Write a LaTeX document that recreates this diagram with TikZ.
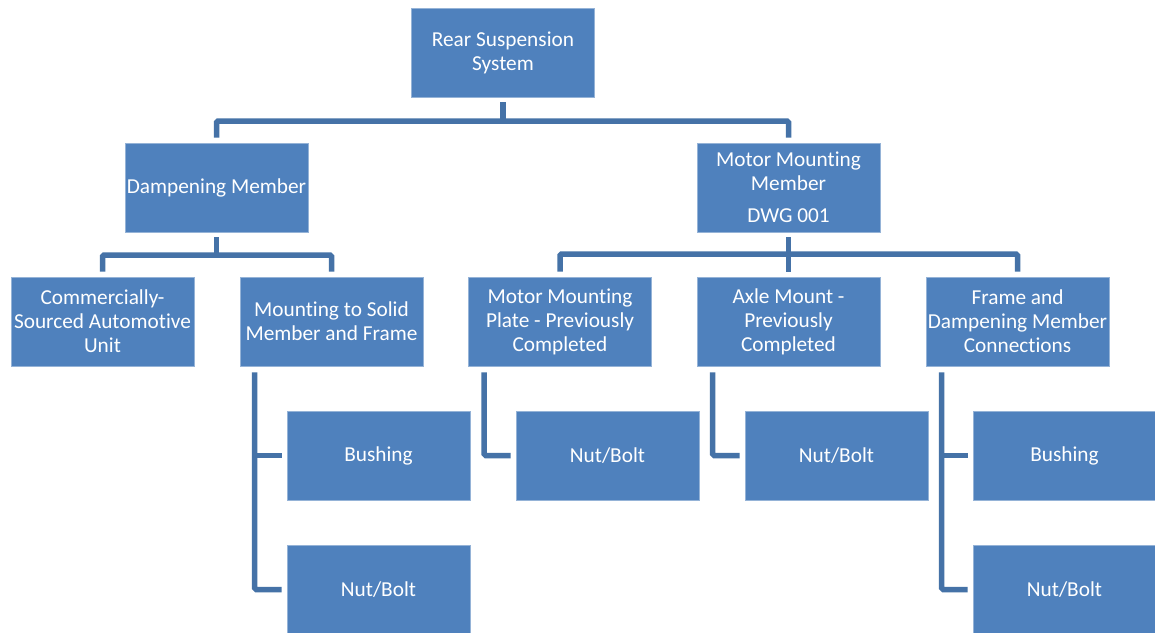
\documentclass[tikz,border=0pt]{standalone}
\usepackage{fontspec}
\setmainfont{Carlito}[Ligatures=NoCommon]
\definecolor{boxblue}{HTML}{4F81BD}
\definecolor{linkblue}{HTML}{4572A7}
\begin{document}
\begin{tikzpicture}[x=1pt,y=-1pt,
  box/.style={fill=boxblue, draw=boxblue!60!white, line width=0.6pt,
    minimum width=183pt, minimum height=89pt, inner sep=0pt, align=center,
    text=white, font=\fontsize{21.3}{24}\selectfont},
  conn/.style={draw=linkblue, line width=5.5pt, rounded corners=1.5pt}]
\useasboundingbox (0,0) rectangle (1155,632);
\fill[white] (0,0) rectangle (1155,632);
% level 0
\node[box] (root) at (503,52.5) {Rear Suspension\\System};
% level 1
\node[box] (damp) at (216.5,187.5) {Dampening Member};
\node[box] (mmm) at (788.5,187.5) {Motor Mounting\\Member\\[8pt]DWG 001};
% level 2
\node[box] (comm) at (102.5,321.5) {Commercially-\\Sourced Automotive\\Unit};
\node[box] (mount) at (331.5,321.5) {Mounting to Solid\\Member and Frame};
\node[box] (plate) at (560,321.5) {Motor Mounting\\Plate - Previously\\Completed};
\node[box] (axle) at (788.5,321.5) {Axle Mount -\\Previously\\Completed};
\node[box] (frame) at (1017.5,321.5) {Frame and\\Dampening Member\\Connections};
% level 3
\node[box] (bush1) at (378.5,455.5) {Bushing};
\node[box] (nut1) at (378.5,589.5) {Nut/Bolt};
\node[box] (nut2) at (607.5,455.5) {Nut/Bolt};
\node[box] (nut3) at (836.5,455.5) {Nut/Bolt};
\node[box] (bush2) at (1064.5,455.5) {Bushing};
\node[box] (nut4) at (1064.5,589.5) {Nut/Bolt};
% connectors level 0-1
\coordinate (b0) at (503,121);
\draw[conn] ([yshift=-5pt]root.south) -- (b0);
\draw[conn] ([yshift=5pt]damp.north) |- (b0) -| ([yshift=5pt]mmm.north);
% level 1-2
\coordinate (b1) at (216.5,255);
\draw[conn] ([yshift=-5pt]damp.south) -- (b1);
\draw[conn] ([yshift=5pt]comm.north) |- (b1) -| ([yshift=5pt]mount.north);
\coordinate (b2) at (788.5,254);
\draw[conn] ([yshift=-5pt]mmm.south) -- ([yshift=5pt]axle.north);
\draw[conn] ([yshift=5pt]plate.north) |- (b2) -| ([yshift=5pt]frame.north);
% level 2-3
\draw[conn] ([xshift=15pt,yshift=-6pt]mount.south west) |- ([xshift=-5pt]nut1.west);
\draw[conn] ([xshift=15pt]mount.south west |- bush1.west) -- ([xshift=-5pt]bush1.west);
\draw[conn] ([xshift=16pt,yshift=-6pt]plate.south west) |- ([xshift=-5pt]nut2.west);
\draw[conn] ([xshift=16pt,yshift=-6pt]axle.south west) |- ([xshift=-5pt]nut3.west);
\draw[conn] ([xshift=16pt,yshift=-6pt]frame.south west) |- ([xshift=-5pt]nut4.west);
\draw[conn] ([xshift=16pt]frame.south west |- bush2.west) -- ([xshift=-5pt]bush2.west);
\end{tikzpicture}
\end{document}
